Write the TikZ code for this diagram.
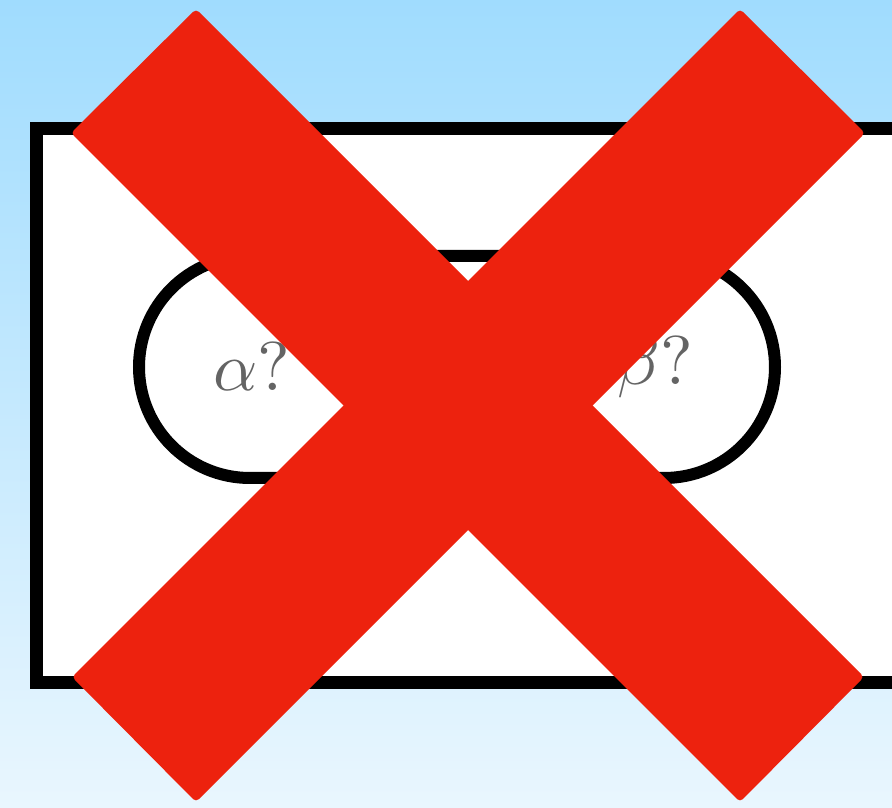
\documentclass[tikz,border=0pt]{standalone}
\definecolor{skytop}{RGB}{160,220,254}
\definecolor{skybot}{RGB}{233,246,254}
\definecolor{xred}{RGB}{237,34,14}
\definecolor{txtgray}{RGB}{100,100,100}
\tikzset{
  frame/.style={draw=black, line width=13pt, fill=white},
  pill/.style={draw=black, line width=12pt, fill=white, rounded corners=111pt},
  lbl/.style={text=txtgray, inner sep=0pt, scale=6.9},
  crossbar/.style={fill=xred, rounded corners=4pt}
}
\begin{document}
\begin{tikzpicture}[x=1pt,y=1pt]
  \useasboundingbox (0,0) rectangle (892,807);
  \clip (0,0) rectangle (892,807);
  \shade[top color=skytop, bottom color=skybot] (0,0) rectangle (892,807);
  \draw[frame] (36.5,125) rectangle (960,678.5);
  \draw[pill] (139,329) rectangle (775,551);
  \node[lbl] (alpha) at (252,440) {$\alpha?$};
  \node[lbl] (beta) at (655,440) {$\beta?$};
  \fill[crossbar] (196,798) -- (864,130) -- (740,5) -- (71,674) -- cycle;
  \fill[crossbar] (740,798) -- (865,674) -- (196,5) -- (72,130) -- cycle;
\end{tikzpicture}
\end{document}
